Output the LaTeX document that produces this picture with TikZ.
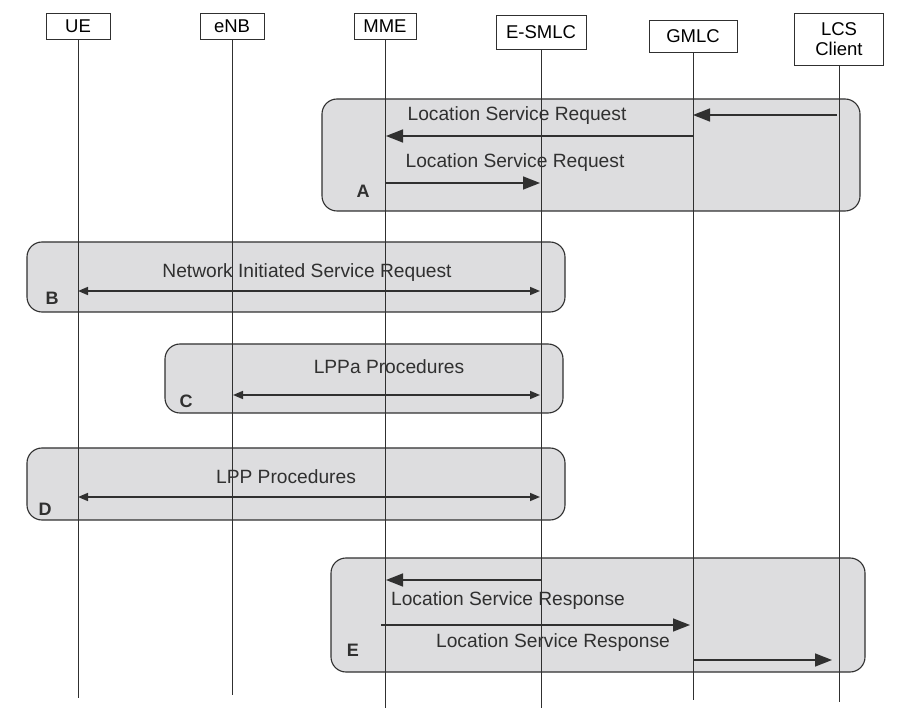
\documentclass[tikz,border=0pt]{standalone}
\usepackage{fontspec}
\setmainfont{Liberation Sans}
\usetikzlibrary{arrows.meta}
\definecolor{boxgray}{HTML}{DDDDDF}
\definecolor{linegray}{HTML}{303030}
\begin{document}
\begin{tikzpicture}[x=1pt,y=-1pt,
  actor/.style={draw=linegray, line width=0.9pt, fill=white, font=\fontsize{18.5}{20}\selectfont, inner sep=0pt, align=center},
  phase/.style={draw=linegray, line width=1.1pt, fill=boxgray, rounded corners=15pt},
  life/.style={line width=0.9pt, draw=linegray},
  msg/.style={line width=1.6pt, draw=linegray, -{Triangle[length=17pt,width=13pt]}},
  dmsg/.style={line width=1.5pt, draw=linegray, {Triangle[length=10pt,width=8pt]}-{Triangle[length=10pt,width=8pt]}},
  lbl/.style={font=\fontsize{19.2}{21}\selectfont, inner sep=0pt, text=linegray},
  tag/.style={font=\bfseries\fontsize{18}{20}\selectfont, inner sep=0pt, text=linegray}]

\useasboundingbox (0,0) rectangle (898,711);

% phase boxes
\draw[phase] (322,99) rectangle (860,211);
\draw[phase] (27,242) rectangle (565,312);
\draw[phase] (165,344) rectangle (563,413);
\draw[phase] (27,448) rectangle (565,520);
\draw[phase] (331,558) rectangle (865,672);

% actors
\node[actor, minimum width=64pt, minimum height=26pt] (ue) at (78,26) {UE};
\node[actor, minimum width=64pt, minimum height=26pt] (enb) at (232,26) {eNB};
\node[actor, minimum width=62pt, minimum height=26pt] (mme) at (385,26) {MME};
\node[actor, minimum width=90pt, minimum height=34pt] (esmlc) at (541,32) {E-SMLC};
\node[actor, minimum width=88pt, minimum height=32pt] (gmlc) at (693,36) {GMLC};
\node[actor, minimum width=89pt, minimum height=52pt] (lcs) at (839,39) {LCS\\Client};

% lifeline ends
\coordinate (ueEnd) at (78,698);
\coordinate (enbEnd) at (232,695);
\coordinate (mmeEnd) at (385,708);
\coordinate (esmlcEnd) at (541,708);
\coordinate (gmlcEnd) at (693,700);
\coordinate (lcsEnd) at (839,702);

\draw[life] (ue.south) -- (ueEnd);
\draw[life] (enb.south) -- (enbEnd);
\draw[life] (mme.south) -- (mmeEnd);
\draw[life] (esmlc.south) -- (esmlcEnd);
\draw[life] (gmlc.south) -- (gmlcEnd);
\draw[life] (lcs.south) -- (lcsEnd);

% message anchor points
\coordinate (a1s) at (837,115);
\coordinate (a1e) at (693,115);
\coordinate (a2s) at (693,136);
\coordinate (a2e) at (386,136);
\coordinate (a3s) at (385,183);
\coordinate (a3e) at (540,183);
\coordinate (bS) at (78,291);
\coordinate (bE) at (540,291);
\coordinate (cS) at (233,395);
\coordinate (cE) at (540,395);
\coordinate (dS) at (78,497);
\coordinate (dE) at (540,497);
\coordinate (e1s) at (541,580);
\coordinate (e1e) at (386,580);
\coordinate (e2s) at (381,625);
\coordinate (e2e) at (690,625);
\coordinate (e3s) at (693,660);
\coordinate (e3e) at (832,660);

% phase A
\draw[msg] (a1s) -- (a1e);
\draw[msg] (a2s) -- (a2e);
\draw[msg] (a3s) -- (a3e);
\node[lbl] (la2) at (517,116) {Location Service Request};
\node[lbl] (la3) at (515,163) {Location Service Request};
\node[tag] (tA) at (363,191) {A};

% phase B
\draw[dmsg] (bS) -- (bE);
\node[lbl] (lb) at (307,273) {Network Initiated Service Request};
\node[tag] (tB) at (52,298) {B};

% phase C
\draw[dmsg] (cS) -- (cE);
\node[lbl] (lc) at (389,367) {LPPa Procedures};
\node[tag] (tC) at (186,401) {C};

% phase D
\draw[dmsg] (dS) -- (dE);
\node[lbl] (ld) at (286,477) {LPP Procedures};
\node[tag] (tD) at (45,509) {D};

% phase E
\draw[msg] (e1s) -- (e1e);
\draw[msg] (e2s) -- (e2e);
\draw[msg] (e3s) -- (e3e);
\node[lbl] (le1) at (508,601) {Location Service Response};
\node[lbl] (le2) at (553,643) {Location Service Response};
\node[tag] (tE) at (353,650) {E};
\end{tikzpicture}
\end{document}
